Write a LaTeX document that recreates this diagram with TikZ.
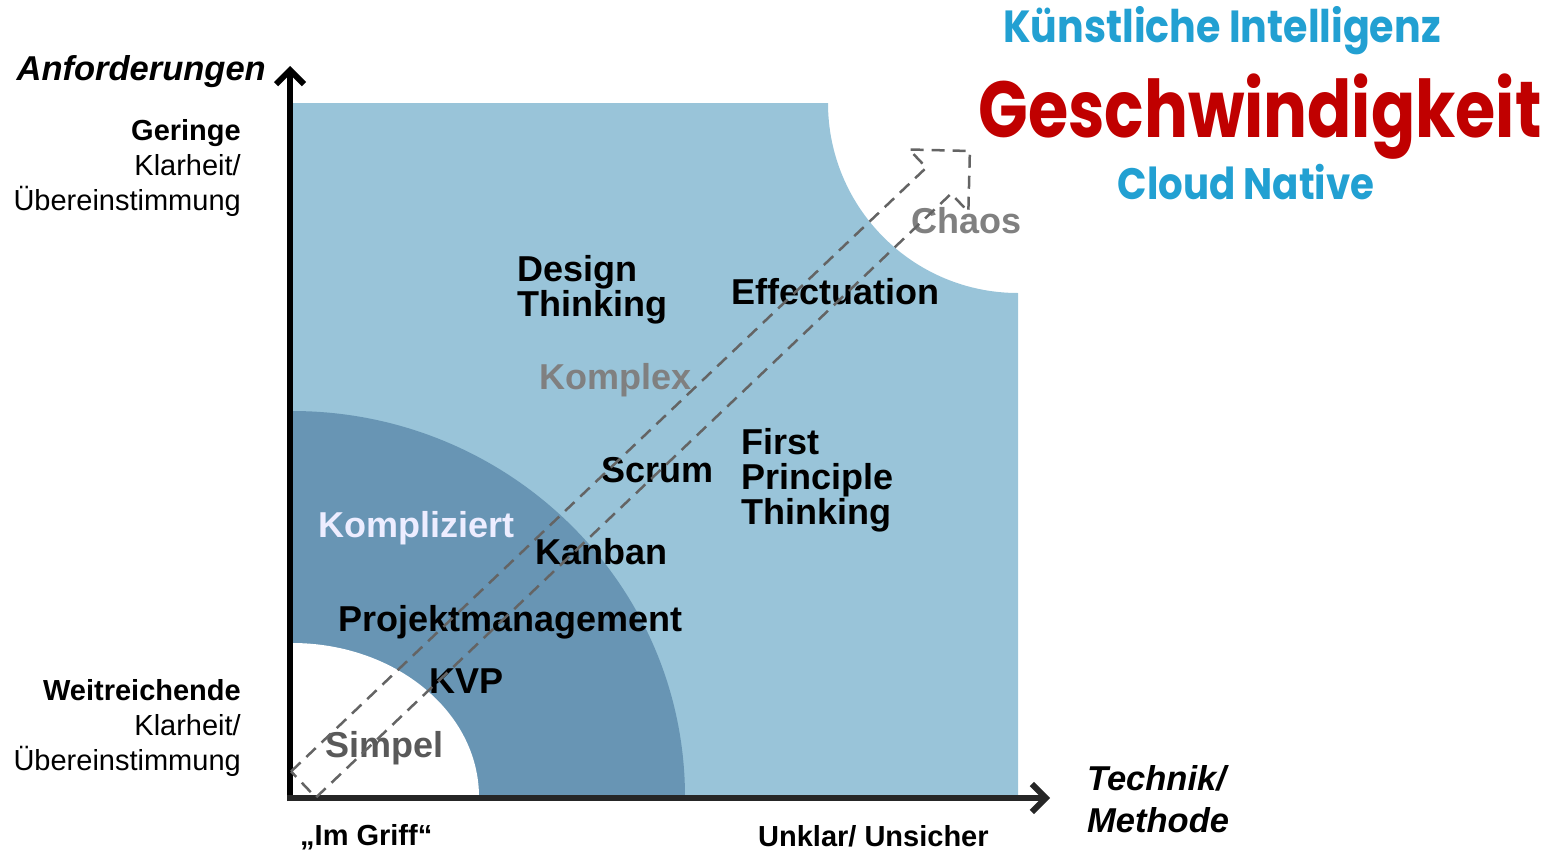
\documentclass[tikz,border=0pt]{standalone}
\usepackage{fontspec}
\setmainfont{Liberation Sans}
\newfontfamily\comicfont[FakeStretch=0.82]{Poppins}
\newfontfamily\comicbreit[FakeStretch=0.88]{Poppins}
\usetikzlibrary{arrows.meta}
\definecolor{feldhell}{RGB}{153,196,217}
\definecolor{felddunkel}{RGB}{104,149,180}
\definecolor{pfeilgrau}{RGB}{100,100,100}
\definecolor{kiblau}{RGB}{34,160,210}
\definecolor{tempo}{RGB}{192,0,0}
\tikzset{>={Straight Barb[length=14pt,width=28pt]}}
\tikzset{
  methode/.style={anchor=base west, inner sep=0pt, font=\fontsize{36}{35}\selectfont\bfseries, align=left},
  seite/.style={anchor=base east, inner sep=0pt, font=\fontsize{29}{35}\selectfont, align=right},
  achse/.style={inner sep=0pt, font=\fontsize{34.5}{42}\selectfont\bfseries\itshape},
  schlagwort/.style={anchor=base, inner sep=0pt},
}

\begin{document}
\begin{tikzpicture}[x=1pt,y=-1pt]
    \useasboundingbox (0,0) rectangle (1556,854);
    % Felder
    \fill[feldhell] (292,103) -- (828,103) arc[start angle=180,end angle=270,radius=190pt] -- (1018,797) -- (292,797) -- cycle;
    \fill[felddunkel] (292,797) -- (292,411) arc[start angle=90,end angle=0,x radius=393pt,y radius=386pt] -- cycle;
    \fill[white] (292,797) -- (292,643) arc[start angle=90,end angle=0,x radius=187pt,y radius=154pt] -- cycle;
    % Achsen
    \draw[->, line width=6pt] (290,801) -- (290,66);
    \draw[->, line width=6pt, color=black!85] (287,798) -- (1050,798);
    \node[achse, anchor=base east] (anf) at (266,80) {Anforderungen};
    \node[achse, anchor=base west, align=left] (technik) at (1087,832) {Technik/\\Methode};
    \node[seite] (geringe) at (241,210) {\textbf{Geringe}\\Klarheit/\\Übereinstimmung};
    \node[seite] (weit) at (241,770) {\textbf{Weitreichende}\\Klarheit/\\Übereinstimmung};
    \node[seite, anchor=base west, font=\fontsize{29}{35}\selectfont\bfseries] (griff) at (300,845) {„Im Griff“};
    \node[seite, anchor=base west, font=\fontsize{29}{35}\selectfont\bfseries] (unklar) at (758,846) {Unklar/ Unsicher};
    % Bereiche
    \node[methode, text=white!93!blue] (kompliziert) at (318,537) {Kompliziert};
    \node[methode, text=black!50] (komplex) at (539,389) {Komplex};
    \node[methode, text=black!50] (chaos) at (911,233) {Chaos};
    \node[methode, text=black!65] (simpel) at (325,757) {Simpel};
    % Methoden
    \node[methode] (design) at (517,316) {Design\\Thinking};
    \node[methode] (effect) at (731,304) {Effectuation};
    \node[methode] (scrum) at (601,482) {Scrum};
    \node[methode] (first) at (741,524) {First\\Principle\\Thinking};
    \node[methode] (kanban) at (535,564) {Kanban};
    \node[methode] (pm) at (338,631) {Projektmanagement};
    \node[methode] (kvp) at (429,693) {KVP};
    % Schlagworte
    \node[schlagwort, text=kiblau, font=\comicbreit\bfseries\fontsize{45}{45}\selectfont] (ki) at (1222,42) {Künstliche Intelligenz};
    \node[schlagwort, text=tempo, font=\comicfont\bfseries\fontsize{79.5}{80}\selectfont] (tempo) at (1260,137) {Geschwindigkeit};
    \node[schlagwort, text=kiblau, font=\comicbreit\bfseries\fontsize{44}{44}\selectfont] (cloud) at (1246,199) {Cloud Native};
    % Pfeil
    \begin{scope}[shift={(303.5,784.5)}, rotate=43.55]
      \draw[pfeilgrau, line width=2.5pt, dash pattern=on 13pt off 8pt] (0,-18) -- (876.5,-18) -- (876.5,-43) -- (919.5,0) -- (876.5,43) -- (876.5,18) -- (0,18) -- cycle;
    \end{scope}
\end{tikzpicture}
\end{document}
